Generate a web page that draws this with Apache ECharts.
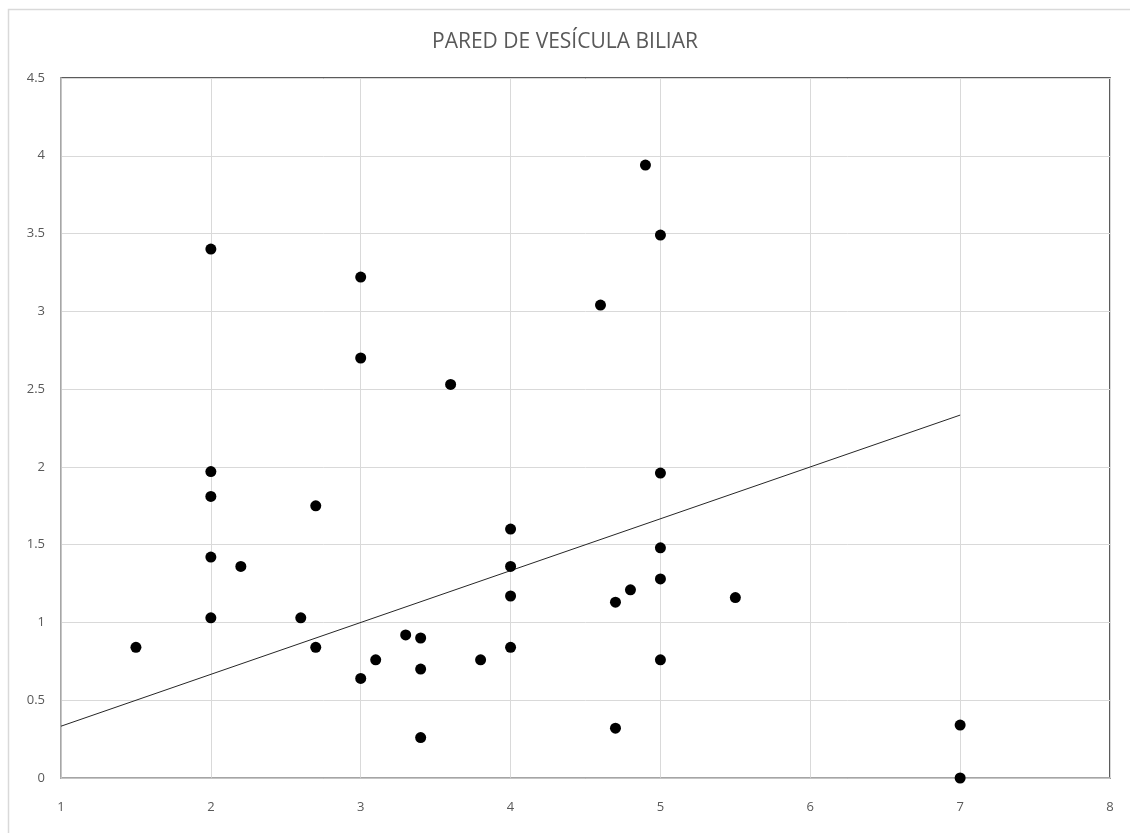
<!DOCTYPE html>
<html><head><meta charset="utf-8">
<script src="https://cdn.jsdelivr.net/npm/echarts@6/dist/echarts.min.js"></script>
<style>html,body{margin:0;padding:0;background:#fff}#c{width:1130px;height:833px}</style>
</head><body><div id="c"></div>
<script>
const title = 'PARED DE VESÍCULA BILIAR';
const xValues = [1.5,2,2,2,2,2,2.2,2.6,2.7,2.7,3,3,3,3.1,3.3,3.4,3.4,3.4,3.6,3.8,4,4,4,4,4.6,4.7,4.7,4.8,4.9,5,5,5,5,5,5.5,7,7];
const yValues = [0.84,3.40,1.97,1.81,1.42,1.03,1.36,1.03,1.75,0.84,3.22,2.70,0.64,0.76,0.92,0.90,0.70,0.26,2.53,0.76,1.60,1.36,1.17,0.84,3.04,1.13,0.32,1.21,3.94,3.49,1.96,1.48,1.28,0.76,1.16,0.34,0.00];
const trendX = [1, 7];
const trendY = [0.333, 2.333];

const points = xValues.map((x, i) => [x, yValues[i]]);
const trend = trendX.map((x, i) => [x, trendY[i]]);
const font = '"Open Sans", "Noto Sans", sans-serif';
const chart = echarts.init(document.getElementById('c'), null, {renderer: 'canvas'});
chart.setOption({
  animation: false,
  backgroundColor: '#fff',
  graphic: [{
    type: 'rect', left: 6, top: 7, silent: true,
    shape: {width: 1140, height: 840},
    style: {fill: 'none', stroke: '#d9d9d9', lineWidth: 1.5}
  }],
  title: {
    text: title, left: 'center', top: 27,
    textStyle: {fontFamily: font, fontSize: 21, fontWeight: 'normal', color: '#595959'}
  },
  grid: {left: 61, right: 20, top: 78, bottom: 55, show: true, borderColor: '#262626', borderWidth: 1.5, backgroundColor: 'transparent'},
  xAxis: {
    type: 'value', min: 1, max: 8, interval: 1,
    axisLine: {show: true, onZero: false, lineStyle: {color: '#bfbfbf', width: 1.5}},
    axisTick: {show: false},
    axisLabel: {color: '#595959', fontFamily: font, fontSize: 13, margin: 23},
    splitLine: {show: true, lineStyle: {color: '#d9d9d9', width: 1}}
  },
  yAxis: {
    type: 'value', min: 0, max: 4.5, interval: 0.5,
    axisLine: {show: true, lineStyle: {color: '#bfbfbf', width: 1.5}},
    axisTick: {show: false},
    axisLabel: {color: '#595959', fontFamily: font, fontSize: 13, margin: 16},
    splitLine: {show: true, lineStyle: {color: '#d9d9d9', width: 1}}
  },
  series: [
    {type: 'line', data: trend, symbol: 'none', lineStyle: {color: '#262626', width: 1}, z: 2},
    {type: 'scatter', data: points, symbol: 'circle', symbolSize: 11, itemStyle: {color: '#000', opacity: 1}, z: 3}
  ]
});
</script></body></html>
